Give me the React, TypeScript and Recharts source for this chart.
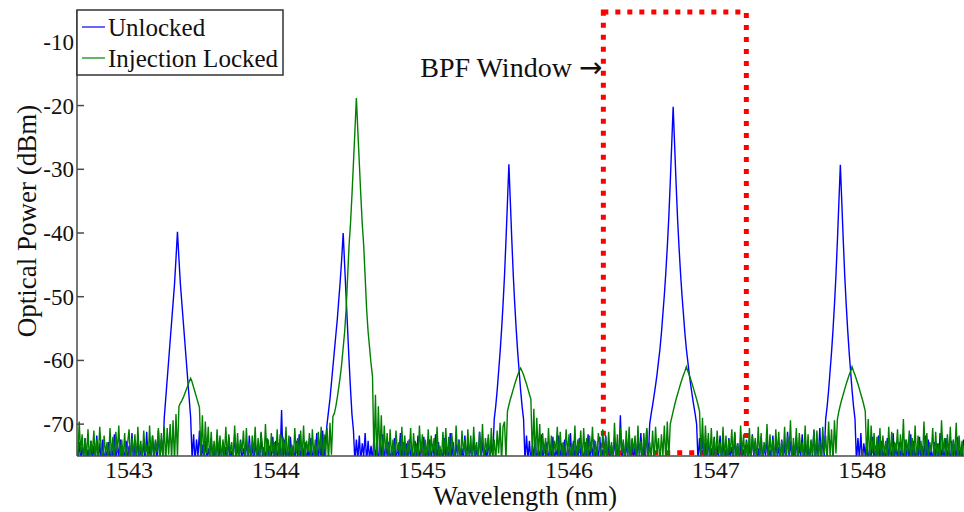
import React from "react";
import { LineChart, Line, XAxis, YAxis, ReferenceArea, Legend } from "recharts";

const FONT = '"Liberation Serif", "Times New Roman", serif';
const AXIS = "#4a4a4a";
const BLUE = "#0000ff";
const GREEN = "#008000";

// OSA sweep: first sample and sample spacing (nm)
const wavelengthStart = 1542.65;
const wavelengthStep = 0.01;

// unlocked comb, dBm per sample (rows of 10)
const unlockedDbm = [
  -75.5, -72.8, -76, -73.6, -75, -72.2, -76, -74, -75.5, -72.6,
  -76, -73.4, -75, -71.8, -76, -73, -75.5, -72.4, -76, -74.2,
  -75, -72.8, -76, -73.6, -75.5, -71.6, -76, -73.2, -75, -72.4,
  -76, -74, -75.5, -72.6, -76, -73.4, -75, -71.4, -76, -73,
  -75.5, -72.2, -76, -73.8, -75, -72.8, -76, -71.2, -75.5, -73.4,
  -76, -71.8, -75, -72.6, -76, -71, -75.5, -72.4, -75, -69,
  -66, -63, -60, -57, -54, -51, -48, -44, -39.8, -44,
  -48, -51, -54, -57, -60, -63, -66, -69, -75.5, -71.6,
  -76, -72.4, -75, -71, -76, -73.2, -75.5, -72.6, -76, -73.8,
  -75, -72.2, -76, -74, -75.5, -71.8, -76, -73.4, -75, -72.8,
  -76, -73.6, -75.5, -72, -76, -74.2, -75, -71.6, -76, -73,
  -75.5, -72.4, -76, -73.8, -75, -72.6, -76, -71.8, -75.5, -73.2,
  -76, -72.8, -75, -74, -76, -71.4, -75.5, -73.6, -76, -72.2,
  -75, -73.4, -76, -72, -75.5, -72.6, -76, -73, -75, -67.8,
  -76, -72.4, -75.5, -73.8, -76, -72, -75, -73.4, -76, -72.6,
  -75.5, -71.6, -76, -73.2, -75, -72.8, -76, -74, -75.5, -72.2,
  -76, -73.6, -75, -71.4, -76, -72.8, -75.5, -71, -76, -72.4,
  -70, -68, -66, -63.5, -61, -58.5, -56, -53.5, -50.5, -47.5,
  -44, -40, -45, -50, -55, -60, -64.5, -68.5, -71, -76,
  -72.4, -75.5, -71.8, -76, -73, -75, -71.4, -76, -72.6, -75.5,
  -73.4, -76, -72, -75, -73.8, -76, -72.4, -75.5, -71.6, -76,
  -73.2, -75, -72.8, -76, -74, -75.5, -72.2, -76, -73.6, -75,
  -71.4, -76, -72.8, -75.5, -73, -76, -72.4, -75, -74, -76,
  -72.6, -75.5, -71.8, -76, -73.4, -75, -72, -76, -73.8, -75.5,
  -72.4, -76, -73.2, -75, -71.6, -76, -72.8, -75.5, -74, -76,
  -72.2, -75, -73.6, -76, -71.4, -75.5, -72.8, -76, -73, -75,
  -72.4, -76, -73.8, -75.5, -71.8, -76, -72.6, -75, -73.4, -76,
  -72, -75.5, -73.6, -76, -71.2, -75, -72.8, -76, -74, -75.5,
  -72.2, -76, -73, -75, -69.2, -67.2, -64.7, -61.7, -58.7, -55.2,
  -51.2, -46.7, -41.2, -35.2, -29.2, -35.2, -41.2, -46.7, -51.2, -55.2,
  -58.7, -61.7, -64.7, -67.2, -69.2, -76, -71.8, -75.5, -72.6, -76,
  -73.4, -75, -72.2, -76, -74, -75.5, -71.6, -76, -73.2, -75,
  -72.8, -76, -73.6, -75.5, -72, -76, -74, -75, -71.8, -76,
  -73, -75.5, -72.4, -76, -73.8, -75, -71.4, -76, -72.6, -75.5,
  -73.4, -76, -72.2, -75, -74, -76, -72.8, -75.5, -71.6, -76,
  -73.2, -75, -72.4, -76, -73.6, -75.5, -72, -76, -74, -75,
  -71.8, -76, -72.6, -75.5, -73.4, -76, -72.2, -75, -73.8, -76,
  -68.6, -75.5, -72.8, -76, -73, -75, -71.6, -76, -72.4, -75.5,
  -73.6, -76, -72, -75, -71.4, -76, -72.8, -75.5, -70.8, -76,
  -70, -68.4, -67, -65.5, -63.9, -62.2, -60.2, -58.2, -55.7, -52.7,
  -49.7, -46.2, -42.2, -37.7, -32.2, -26.2, -20.2, -26.2, -32.2, -37.7,
  -42.2, -46.2, -49.7, -52.7, -55.7, -58.2, -60.2, -62.2, -63.9, -65.5,
  -67, -68.4, -70, -76, -72.2, -75.5, -71.6, -76, -73, -75,
  -72.4, -76, -73.8, -75.5, -72, -76, -73.4, -75, -71.8, -76,
  -72.6, -75.5, -74, -76, -72.2, -75, -73.6, -76, -71.4, -75.5,
  -73, -76, -72.8, -75, -74, -76, -72.4, -75.5, -73.2, -76,
  -71.6, -75, -72.6, -76, -73.8, -75.5, -72, -76, -73.4, -75,
  -72.2, -76, -74, -75.5, -71.8, -76, -72.8, -75, -73.6, -76,
  -72.4, -75.5, -73, -76, -71.2, -75, -72.6, -76, -73.8, -75.5,
  -72, -76, -73.4, -75, -71.6, -76, -72.8, -75.5, -73.2, -76,
  -72.6, -75, -71, -76, -72.4, -75.5, -70.6, -76, -71.8, -75,
  -69.2, -67.2, -64.7, -61.7, -58.7, -55.2, -51.2, -46.7, -41.2, -35.2,
  -29.3, -35.2, -41.2, -46.7, -51.2, -55.2, -58.7, -61.7, -64.7, -67.2,
  -69.2, -76, -72.2, -75.5, -71.4, -76, -73, -75, -72.6, -76,
  -73.8, -75.5, -72, -76, -73.4, -75, -71.8, -76, -72.6, -75.5,
  -74, -76, -72.2, -75, -73.6, -76, -71.4, -75.5, -73, -76,
  -72.8, -75, -74, -76, -72.4, -75.5, -73.2, -76, -71.6, -75,
  -72.6, -76, -73.8, -75.5, -72, -76, -73.4, -75, -71.8, -76,
  -72.4, -75.5, -74, -76, -72.8, -75, -73, -76, -71.4, -75.5,
  -73.6, -76, -72.2, -75, -74, -76, -72.6, -75.5, -73.2, -76,
  -72, -75, -73.8, -76, -72.4,
];

// injection locked comb, dBm per sample (rows of 10)
const lockedDbm = [
  -76, -69.6, -74.4, -71.6, -76, -72.2, -75.2, -70.8, -76, -72.6,
  -74.6, -71, -76, -72.4, -75.6, -70.4, -73.8, -76, -71.8, -74.8,
  -72.8, -76, -70.6, -75, -72, -76, -71.2, -74.4, -70.2, -76,
  -72.4, -75.4, -71.4, -76, -73, -70.8, -76, -72.2, -74.8, -71.6,
  -76, -70.4, -75.2, -72.6, -76, -71, -74.6, -73.2, -76, -70.2,
  -75.4, -71.8, -76, -72.4, -74.4, -70.6, -76, -71.4, -75, -70.4,
  -76, -70.6, -74.8, -70, -75.5, -69.4, -76, -68.4, -75, -67.2,
  -66.7, -66.3, -65.8, -65.2, -64.6, -64, -63.3, -62.8, -63.4, -64.2,
  -65, -65.8, -66.6, -67.4, -75, -68.6, -76, -69.6, -74.6, -70.4,
  -76, -71.2, -75.4, -72.6, -76, -70.8, -74.8, -71.8, -76, -72.4,
  -75, -70.4, -76, -71.6, -74.6, -72.8, -76, -70.2, -75.6, -71.4,
  -76, -72.6, -74.4, -71, -76, -70.6, -75.2, -73, -76, -71.8,
  -74.8, -70.4, -76, -72.2, -75.4, -71.2, -73.6, -76, -70, -75,
  -72.4, -76, -71.4, -74.6, -72.8, -76, -70.8, -75.4, -71.6, -76,
  -72, -74.8, -70.4, -76, -71.8, -75, -73.2, -76, -70.6, -74.6,
  -72.2, -76, -71, -75.4, -70.2, -76, -72.6, -74.4, -71.4, -76,
  -70.8, -75.2, -72.4, -76, -71.2, -74.6, -70.4, -76, -71.6, -75,
  -70.6, -76, -69.8, -74.8, -68.8, -68.3, -67.2, -65.8, -64.2, -62.5,
  -60.5, -58, -55.5, -52, -47, -42, -38.5, -34, -29, -24,
  -18.8, -24, -29, -34, -38.5, -42, -47, -52, -55.5, -58,
  -60.5, -62.5, -75.5, -65.4, -76, -67.2, -75, -68.6, -76, -70.2,
  -74.6, -71.4, -76, -70.8, -75.2, -72.4, -76, -71, -74.4, -72.8,
  -76, -70.4, -75.6, -71.8, -76, -72.6, -74.8, -70.6, -76, -71.4,
  -75, -73, -76, -70.2, -74.6, -71.6, -76, -72.4, -75.4, -70.8,
  -76, -71.8, -74.4, -72.2, -76, -70.4, -75.2, -73.4, -76, -71.2,
  -74.8, -70.6, -76, -72, -75.6, -71.4, -73.8, -76, -70.2, -75,
  -72.6, -76, -71, -74.6, -72.4, -76, -70.8, -75.4, -71.8, -76,
  -70.4, -74.8, -72.8, -76, -71.2, -75, -70, -76, -72.2, -74.4,
  -71.6, -76, -70.6, -75.2, -72.4, -76, -71, -74.6, -69.8, -76,
  -70.4, -69.6, -75.5, -68, -67, -66.1, -65.3, -64.5, -63.7, -63,
  -62.3, -61.7, -61.2, -61.7, -62.3, -63, -63.7, -64.5, -65.3, -66.1,
  -75.5, -67.6, -76, -69, -75, -70, -76, -71.4, -74.6, -72.2,
  -76, -70.6, -75.2, -71.8, -76, -72.6, -74.4, -70.4, -76, -71.2,
  -75, -72.8, -76, -70.8, -74.8, -71.6, -76, -73, -75.4, -70.2,
  -76, -72.4, -74.6, -71, -76, -70.6, -75.6, -72.2, -76, -71.8,
  -74.4, -70.4, -76, -72.6, -75, -71.4, -73.6, -76, -70.8, -75.2,
  -72, -76, -71.2, -74.8, -72.8, -76, -69.8, -75.4, -71.6, -76,
  -70.6, -74.6, -72.4, -76, -71, -75.2, -70.4, -76, -72.2, -74.4,
  -71.8, -76, -70.2, -75, -72.6, -76, -71.4, -74.8, -70.6, -76,
  -72.8, -75.4, -71, -76, -70.4, -74.6, -72.2, -76, -71.6, -75,
  -70.2, -76, -69.6, -75.4, -70, -69, -68, -67, -66.1, -65.3,
  -64.5, -63.7, -63, -62.3, -61.7, -61, -61.7, -62.3, -63, -63.7,
  -64.5, -65.3, -66.1, -67, -68, -75.5, -69, -76, -70.2, -74.8,
  -71.4, -76, -70.6, -75.2, -72.2, -76, -71, -74.6, -72.8, -76,
  -70.4, -75.4, -71.8, -76, -72.4, -74.4, -70.8, -76, -71.2, -75,
  -73, -76, -70.2, -74.8, -71.6, -76, -72.6, -75.6, -70.6, -76,
  -71.8, -74.6, -72.2, -76, -70.4, -75.2, -71.4, -76, -72.8, -74.4,
  -70, -76, -71.6, -75, -72.4, -76, -70.8, -74.8, -71.2, -76,
  -72.6, -75.4, -70.4, -76, -71.8, -74.6, -69.4, -76, -72.2, -75.2,
  -70.6, -76, -71.4, -74.4, -72.8, -76, -70.2, -75.6, -71.6, -76,
  -72.4, -74.8, -70.8, -76, -71, -75.2, -72.6, -76, -70.4, -74.6,
  -71.8, -76, -69.6, -75, -70.8, -76, -69.4, -74.6, -69.2, -68,
  -67, -66.1, -65.3, -64.5, -63.7, -63, -62.3, -61.7, -61, -61.7,
  -62.3, -63, -63.7, -64.5, -65.3, -66.1, -67, -68, -75.5, -69.2,
  -76, -70.2, -74.6, -71.4, -76, -72, -75.2, -70.6, -76, -71.8,
  -74.8, -72.6, -76, -70.4, -75.4, -71.2, -76, -72.8, -74.4, -70.8,
  -76, -71.6, -75, -69.2, -76, -72.4, -74.6, -71, -76, -72.2,
  -75.6, -70.2, -76, -71.8, -74.8, -72.6, -76, -69.6, -75.2, -71.4,
  -76, -72.8, -74.4, -70.6, -76, -71.2, -75.4, -73, -76, -69.4,
  -74.6, -72.2, -76, -71.6, -75, -70.4, -76, -72.4, -74.8, -69.8,
  -76, -71.8, -75.2, -72.6, -76,
];

const xTicks = [1543, 1544, 1545, 1546, 1547, 1548];
const yTicks = [-70, -60, -50, -40, -30, -20, -10];
const xDomain = [1542.645, 1548.7];
const yDomain = [-75, -5];
const bpfWindow = [1546.234, 1547.209];
const seriesNames = ["Unlocked", "Injection Locked"];

const data = unlockedDbm.map((u, i) => ({
  wl: +(wavelengthStart + i * wavelengthStep).toFixed(2),
  unlocked: u,
  locked: lockedDbm[i],
}));

function BottomTick({ x, y, payload }: any) {
  return (
    <g>
      <line x1={x} y1={y} x2={x} y2={y - 7} stroke={AXIS} strokeWidth={1.5} />
      <text x={x} y={y + 22} textAnchor="middle" fontFamily={FONT} fontSize={24} fill="#111">
        {payload.value}
      </text>
    </g>
  );
}

function LeftTick({ x, y, payload }: any) {
  return (
    <g>
      <line x1={x} y1={y} x2={x + 7} y2={y} stroke={AXIS} strokeWidth={1.5} />
      <text x={x - 3} y={y + 8} textAnchor="end" fontFamily={FONT} fontSize={23} fill="#111">
        {payload.value}
      </text>
    </g>
  );
}

function LegendBox() {
  const colors = [BLUE, GREEN];
  return (
    <svg width={208} height={67} style={{ display: "block" }}>
      <rect x={1} y={1} width={206} height={65} fill="#fff" stroke="#333" strokeWidth={1.5} />
      {seriesNames.map((name, i) => (
        <g key={name}>
          <line x1={6} x2={29} y1={18 + i * 31} y2={18 + i * 31} stroke={colors[i]} strokeWidth={1.2} />
          <text x={32} y={27 + i * 31} fontFamily={FONT} fontSize={25} fill="#111">
            {name}
          </text>
        </g>
      ))}
    </svg>
  );
}

export default function App() {
  return (
    <div
      style={{
        position: "absolute",
        left: 0,
        top: 0,
        width: 964,
        height: 512,
        overflow: "hidden",
        background: "#fff",
      }}
    >
      <LineChart
        width={965}
        height={512}
        data={data}
        margin={{ top: 10, right: 0, bottom: 0, left: 0 }}
        style={{ overflow: "visible" }}
      >
        <XAxis
          xAxisId="b"
          dataKey="wl"
          type="number"
          domain={xDomain}
          allowDataOverflow
          ticks={xTicks}
          height={56}
          tickSize={0}
          tickMargin={0}
          tickLine={false}
          tick={<BottomTick />}
          axisLine={{ stroke: AXIS, strokeWidth: 1.5 }}
          label={() => (
            <text x={525} y={505} textAnchor="middle" fontFamily={FONT} fontSize={26.5} fill="#111">
              Wavelength (nm)
            </text>
          )}
        />
        <XAxis
          xAxisId="t"
          dataKey="wl"
          orientation="top"
          type="number"
          domain={xDomain}
          allowDataOverflow
          ticks={xTicks}
          height={0}
          mirror
          tickSize={7}
          tick={false}
          tickLine={{ stroke: AXIS, strokeWidth: 1.5 }}
          axisLine={{ stroke: AXIS, strokeWidth: 1.5 }}
        />
        <YAxis
          yAxisId="l"
          type="number"
          domain={yDomain}
          allowDataOverflow
          ticks={yTicks}
          width={77}
          tickSize={0}
          tickMargin={0}
          tickLine={false}
          tick={<LeftTick />}
          axisLine={{ stroke: AXIS, strokeWidth: 1.5 }}
          label={() => (
            <text
              x={36}
              y={221}
              transform="rotate(-90 36 221)"
              textAnchor="middle"
              fontFamily={FONT}
              fontSize={27}
              fill="#111"
            >
              Optical Power (dBm)
            </text>
          )}
        />
        <YAxis
          yAxisId="r"
          orientation="right"
          type="number"
          domain={yDomain}
          allowDataOverflow
          ticks={yTicks}
          width={0}
          mirror
          tickSize={7}
          tick={false}
          tickLine={{ stroke: AXIS, strokeWidth: 1.5 }}
          axisLine={{ stroke: AXIS, strokeWidth: 1.5 }}
        />
        <Line
          xAxisId="b"
          yAxisId="l"
          type="linear"
          dataKey="unlocked"
          stroke={BLUE}
          strokeWidth={1.4}
          dot={false}
          activeDot={false}
          isAnimationActive={false}
        />
        <Line
          xAxisId="b"
          yAxisId="l"
          type="linear"
          dataKey="locked"
          stroke={GREEN}
          strokeWidth={1.4}
          dot={false}
          activeDot={false}
          isAnimationActive={false}
        />
        <ReferenceArea
          xAxisId="b"
          yAxisId="l"
          x1={bpfWindow[0]}
          x2={bpfWindow[1]}
          y1={-74.5}
          y2={-5.3}
          fill="none"
          fillOpacity={0}
          stroke="#ff0000"
          strokeWidth={5}
          strokeDasharray="5 7"
          ifOverflow="visible"
          label={(p: any) => (
            <text x={p.viewBox.x - 1} y={77} textAnchor="end" fontFamily={FONT} fontSize={28} fill="#111">
              BPF Window{" "}
              <tspan fontFamily='"DejaVu Sans", sans-serif' fontSize={28}>
                →
              </tspan>
            </text>
          )}
        />
        <Legend
          layout="horizontal"
          verticalAlign="middle"
          align="center"
          wrapperStyle={{ left: 76, top: 9, width: 208, height: 67 }}
          content={() => <LegendBox />}
        />
      </LineChart>
    </div>
  );
}
